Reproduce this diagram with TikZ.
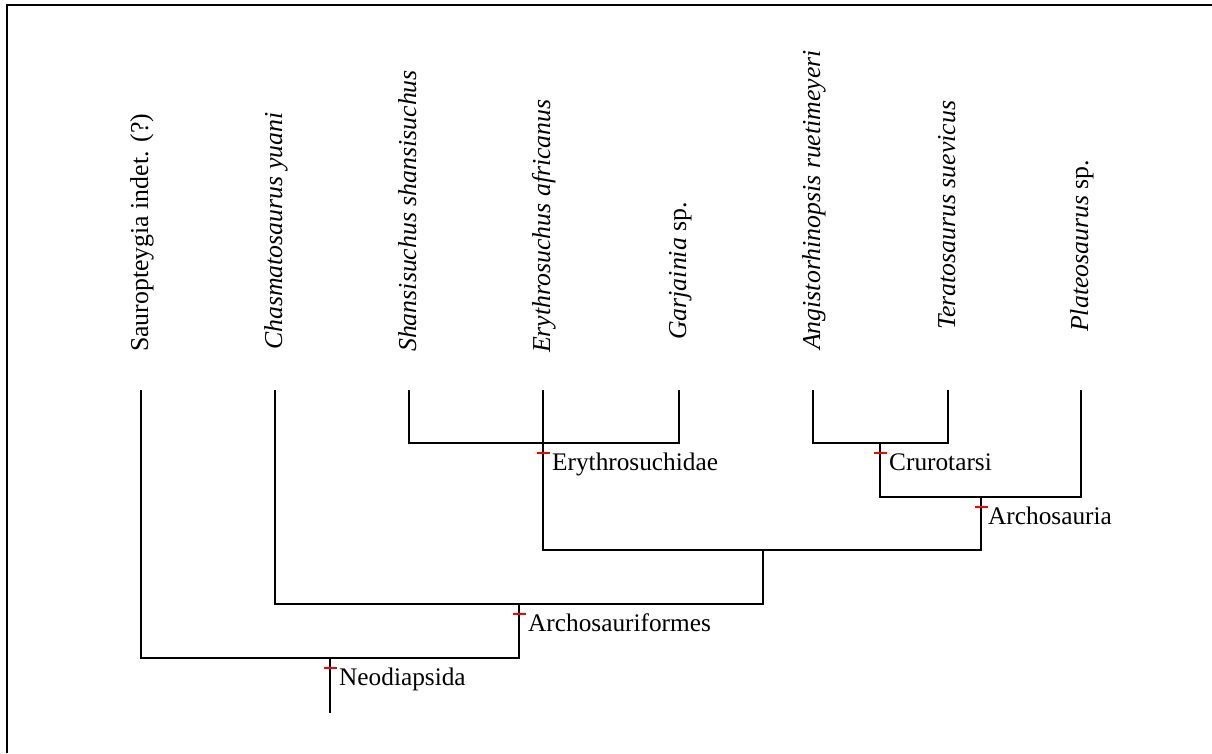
\documentclass[tikz,border=0pt]{standalone}
\usepackage{fontspec}
\setmainfont{Liberation Serif}
\usetikzlibrary{positioning}

\begin{document}
\begin{tikzpicture}[x=1pt, y=-1pt,
  branch/.style={line width=1.8pt},
  leaf/.style={rotate=90, anchor=base west, inner sep=0pt, font=\fontsize{25.8}{30}\selectfont},
  clade/.style={anchor=base west, inner sep=0pt, font=\fontsize{25.3}{30}\selectfont},
  cladetick/.style={red, line width=1.6pt}]
  \useasboundingbox (0,0) rectangle (1212,753);

  % frame
  \draw[line width=2pt] (7,753) -- (7,5) -- (1212,5);

  % tips
  \coordinate (saurop) at (141,390);
  \coordinate (chasm) at (275,390);
  \coordinate (shansi) at (409,390);
  \coordinate (erythro) at (543,390);
  \coordinate (garj) at (679,390);
  \coordinate (angis) at (813,390);
  \coordinate (terat) at (948,390);
  \coordinate (plateo) at (1081,390);

  \node[leaf] (sauropL) at (148,352) {Sauropteygia indet. (?)};
  \node[leaf] (chasmL) at (282,350) {\textit{Chasmatosaurus yuani}};
  \node[leaf] (shansiL) at (416,352) {\textit{Shansisuchus shansisuchus}};
  \node[leaf] (erythroL) at (550,353) {\textit{Erythrosuchus africanus}};
  \node[leaf] (garjL) at (686,340) {\textit{Garjainia} sp.};
  \node[leaf] (angisL) at (820,350) {\textit{Angistorhinopsis ruetimeyeri}};
  \node[leaf] (teratL) at (955,330) {\textit{Teratosaurus suevicus}};
  \node[leaf] (plateoL) at (1088,332) {\textit{Plateosaurus} sp.};

  % clades
  \coordinate (ery) at (543,443);
  \coordinate (cru) at (880,443);
  \coordinate (arch) at (981,497);
  \coordinate (xx) at (763,550);
  \coordinate (af) at (519,604);
  \coordinate (neo) at (330,658);
  \coordinate (root) at (330,713);

  \draw[branch] (shansi) |- (ery) -| (garj);
  \draw[branch] (erythro) -- (ery);
  \draw[branch] (angis) |- (cru) -| (terat);
  \draw[branch] (cru) |- (arch) -| (plateo);
  \draw[branch] (ery) |- (xx) -| (arch);
  \draw[branch] (chasm) |- (af) -| (xx);
  \draw[branch] (saurop) |- (neo) -| (af);
  \draw[branch] (neo) -- (root);

  \draw[cladetick] ([xshift=-6.5pt, yshift=-10pt]ery) -- ++(13,0);
  \draw[cladetick] ([xshift=-6.5pt, yshift=-10pt]cru) -- ++(13,0);
  \draw[cladetick] ([xshift=-6.5pt, yshift=-10pt]arch) -- ++(13,0);
  \draw[cladetick] ([xshift=-6.5pt, yshift=-10pt]af) -- ++(13,0);
  \draw[cladetick] ([xshift=-6.5pt, yshift=-10pt]neo) -- ++(13,0);

  \node[clade] (eryL) at ([xshift=9pt, yshift=-27pt]ery) {Erythrosuchidae};
  \node[clade] (cruL) at ([xshift=9pt, yshift=-27pt]cru) {Crurotarsi};
  \node[clade] (archL) at ([xshift=7pt, yshift=-27pt]arch) {Archosauria};
  \node[clade] (afL) at ([xshift=9pt, yshift=-27pt]af) {Archosauriformes};
  \node[clade] (neoL) at ([xshift=9pt, yshift=-27pt]neo) {Neodiapsida};
\end{tikzpicture}
\end{document}
